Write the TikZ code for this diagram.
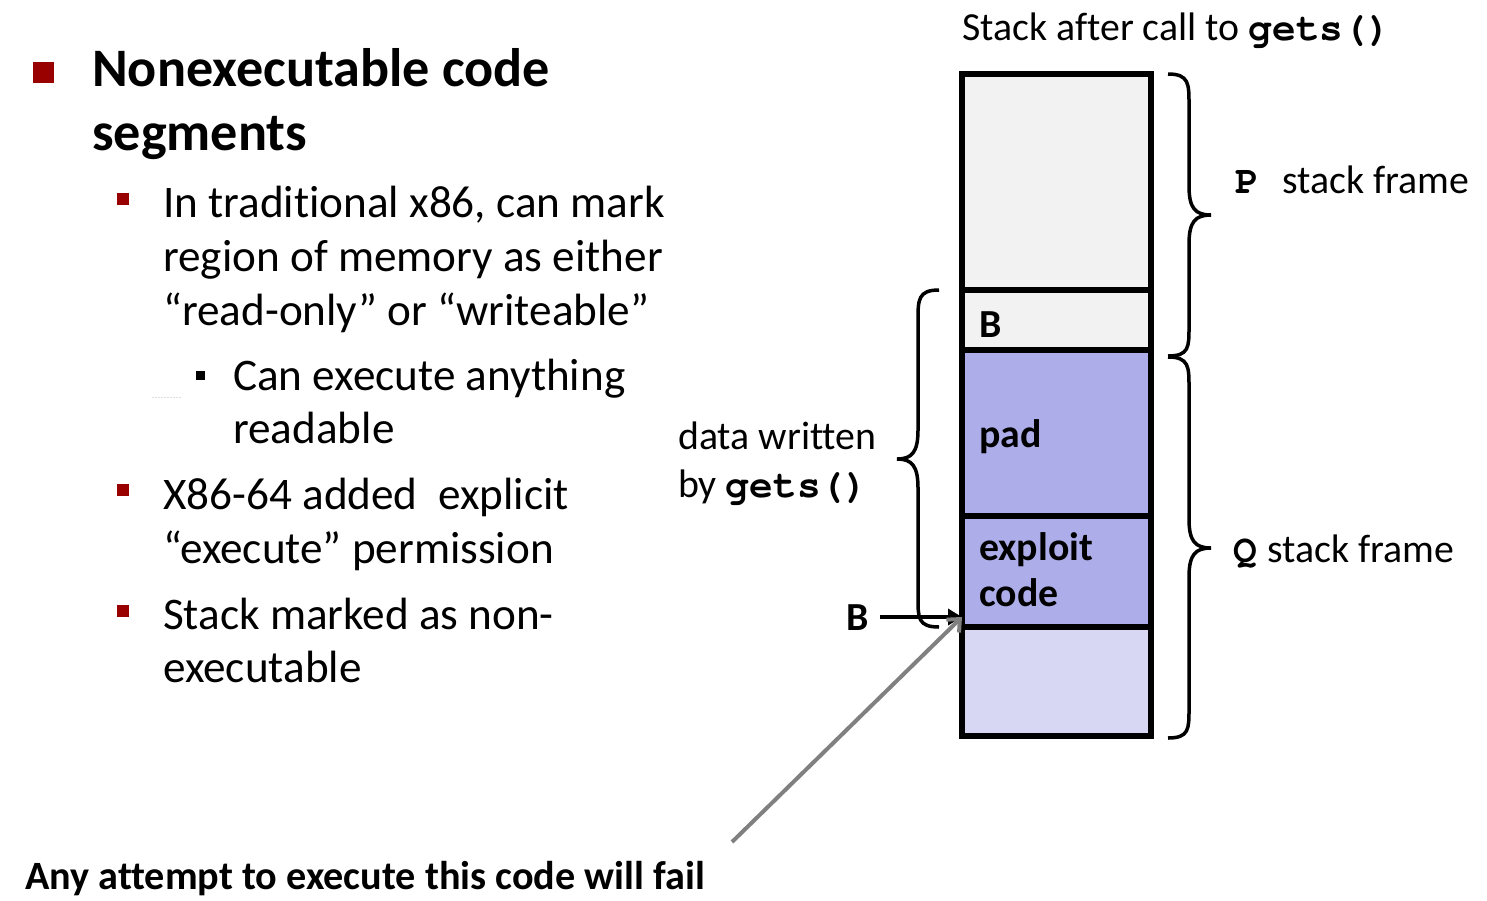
\documentclass[tikz,border=0pt]{standalone}
\usepackage{fontspec}
\setmainfont{Carlito}[Ligatures=NoCommon]
\newfontfamily\mono{TeX Gyre Cursor}
\usetikzlibrary{arrows.meta}
\definecolor{bulred}{RGB}{153,0,0}
\definecolor{cellgray}{RGB}{242,242,242}
\definecolor{cellpad}{RGB}{173,173,234}
\definecolor{celllow}{RGB}{215,215,243}
\definecolor{arrgray}{RGB}{128,128,128}
\newcommand{\mcode}[1]{{\fontsize{39.5}{46}\selectfont\mono\bfseries #1}}
\begin{document}
\begin{tikzpicture}[x=1pt,y=-1pt,
  body/.style={anchor=base west, inner sep=0pt, font=\fontsize{45.2}{54}\selectfont},
  title/.style={anchor=base west, inner sep=0pt, font=\fontsize{54.2}{64}\selectfont\bfseries},
  lab/.style={anchor=base west, inner sep=0pt, font=\fontsize{39.8}{46}\selectfont},
  celllab/.style={anchor=base west, inner sep=0pt, font=\fontsize{39.8}{46}\selectfont\bfseries},
  cell/.style={draw=black, line width=5.5pt, anchor=north west, inner sep=0pt, outer sep=0pt, minimum width=189pt},
  bigbul/.style={fill=bulred, draw=none, minimum size=21pt, inner sep=0pt, outer sep=0pt, anchor=north west},
  smallbul/.style={fill=bulred, draw=none, minimum size=12pt, inner sep=0pt, outer sep=0pt, anchor=north west},
  blackbul/.style={fill=black, draw=none, minimum size=9pt, inner sep=0pt, outer sep=0pt, anchor=north west},
  bracepath/.style={draw=black, line width=3.5pt},
]
\useasboundingbox (0,0) rectangle (1487,900);

% ---------- left bullet text ----------
\node[bigbul] (b0) at (33,62) {};
\node[title] (t1) at (92,86) {Nonexecutable code};
\node[title] (t2) at (92,150) {segments};

\node[smallbul] (b1) at (117,193) {};
\node[body] (l1) at (163,217) {In traditional x86, can mark};
\node[body] (l2) at (163,271) {region of memory as either};
\node[body] (l3) at (163,325) {“read-only” or “writeable”};

\node[blackbul] (b2) at (196,371) {};
\node[body] (l4) at (233,390) {Can execute anything};
\node[body] (l5) at (233,443) {readable};
\draw[gray!25, line width=1pt, dash pattern=on 2pt off 1pt] (152,397) -- (182,397);

\node[smallbul] (b3) at (117,484) {};
\node[body] (l6) at (163,509) {X86-64 added\ \ explicit};
\node[body] (l7) at (163,563) {“execute” permission};

\node[smallbul] (b4) at (117,605) {};
\node[body] (l8) at (163,629) {Stack marked as non-};
\node[body] (l9) at (163,682) {executable};

\node[anchor=base west, inner sep=0pt, font=\fontsize{40.2}{48}\selectfont\bfseries] (fail) at (25,889) {Any attempt to execute this code will fail};

% ---------- stack ----------
\node[lab] (head) at (962,40) {Stack after call to \mcode{gets()}};

\node[cell, fill=cellgray, minimum height=216pt] (c1) at (962,74) {};
\node[cell, fill=cellgray, minimum height=60pt] (c2) at (962,290) {};
\node[cell, fill=cellpad, minimum height=166pt] (c3) at (962,350) {};
\node[cell, fill=cellpad, minimum height=111pt] (c4) at (962,516) {};
\node[cell, fill=celllow, minimum height=109pt] (c5) at (962,627) {};

\node[celllab] (lb) at (979,337) {B};
\node[celllab] (lpad) at (979,447) {pad};
\node[celllab] (lex) at (979,560) {exploit};
\node[celllab] (lcode) at (979,606) {code};

% ---------- braces ----------
% P brace
\draw[bracepath] (1168,74) .. controls (1189,74) and (1189,84) .. (1189,104) -- (1189,186)
  .. controls (1189,208) and (1195,215) .. (1211,215) .. controls (1195,215) and (1189,222) .. (1189,244)
  -- (1189,327) .. controls (1189,347) and (1189,356) .. (1168,356);
% Q brace
\draw[bracepath] (1168,357) .. controls (1189,357) and (1189,367) .. (1189,387) -- (1189,519)
  .. controls (1189,541) and (1195,548) .. (1211,548) .. controls (1195,548) and (1189,555) .. (1189,577)
  -- (1189,709) .. controls (1189,729) and (1189,738) .. (1168,738);
% data written brace
\draw[bracepath] (939,290) .. controls (918,290) and (918,300) .. (918,320) -- (918,430)
  .. controls (918,452) and (912,459) .. (897,459) .. controls (912,459) and (918,466) .. (918,488)
  -- (918,598) .. controls (918,618) and (918,627) .. (939,627);

\node[lab] (pl) at (1235,193) {\mcode{P}};
\node[lab] (pf) at (1282,193) {stack frame};
\node[lab] (ql) at (1233,562) {\mcode{Q}};
\node[lab] (qf) at (1267,562) {stack frame};

\node[lab] (dw1) at (678,449) {data written};
\node[lab] (dw2) at (678,497) {by \mcode{gets()}};

% ---------- arrows ----------
\node[celllab] (bl) at (846,630) {B};
\coordinate (bptr) at (962,617);
\coordinate (bstart) at (880,617);
\draw[line width=4.5pt, -{Triangle[length=14pt,width=16pt]}] (bstart) -- (bptr);
\coordinate (failstart) at (732,842);
\draw[arrgray, line width=4pt, -{Straight Barb[length=10pt,width=18pt]}] (failstart) -- (bptr);
\end{tikzpicture}
\end{document}
